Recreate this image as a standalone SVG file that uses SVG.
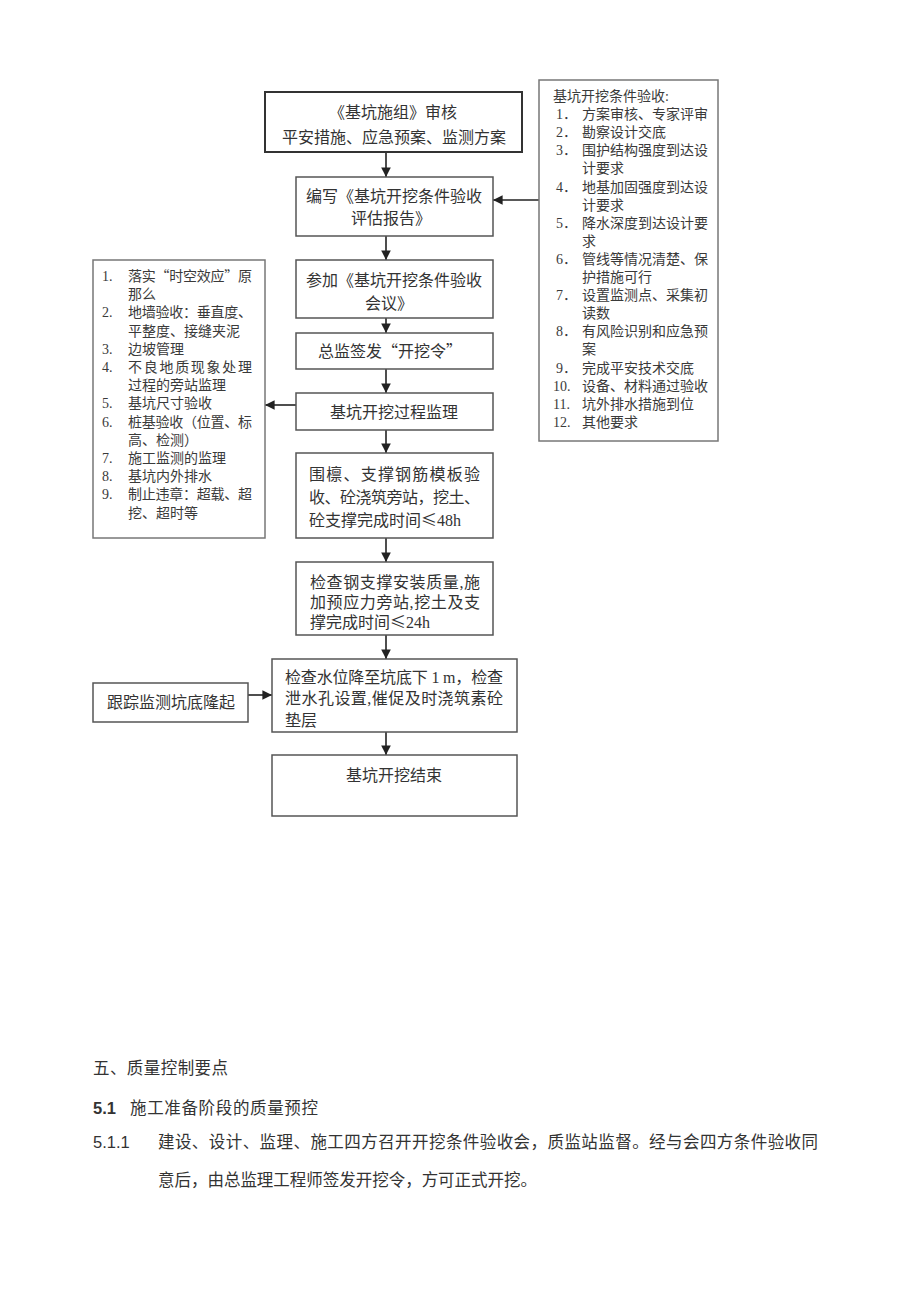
<svg xmlns="http://www.w3.org/2000/svg" width="920" height="1301" viewBox="0 0 920 1301">
<style>
.bx{fill:#fff;stroke:#555;stroke-width:1.5}
.bx1{fill:#fff;stroke:#333;stroke-width:2}
.lst{fill:#fff;stroke:#777;stroke-width:1.5}
.t{font-family:"Liberation Serif","Noto Sans CJK SC",serif;font-size:16px;fill:#333}
.m{text-anchor:middle}
.s{font-family:"Liberation Serif","Noto Sans CJK SC",serif;font-size:14px;fill:#3a3a3a}
.b{font-family:"Liberation Serif","Noto Sans CJK SC",serif;font-size:16.5px;fill:#333}
.n{font-family:"Liberation Sans","Noto Sans CJK SC",sans-serif;font-size:16.5px;fill:#333}
.cj{font-family:"Noto Sans CJK SC",sans-serif}
.c{stroke:#222;stroke-width:1.6;fill:none;marker-end:url(#ah)}
</style>
<defs>
<marker id="ah" viewBox="0 0 10 10" refX="10" refY="5" markerWidth="6" markerHeight="6" orient="auto" markerUnits="strokeWidth">
<path d="M0,0 L10,5 L0,10 z" fill="#222"/>
</marker>
</defs>
<rect width="920" height="1301" fill="#fff"/>

<g id="connectors">
<line class="c" x1="386" y1="152" x2="386" y2="177"/>
<line class="c" x1="386" y1="236" x2="386" y2="260"/>
<line class="c" x1="386" y1="318" x2="386" y2="333"/>
<line class="c" x1="386" y1="369" x2="386" y2="393"/>
<line class="c" x1="386" y1="430" x2="386" y2="453"/>
<line class="c" x1="386" y1="538" x2="386" y2="562"/>
<line class="c" x1="386" y1="635" x2="386" y2="659"/>
<line class="c" x1="386" y1="732" x2="386" y2="755"/>
<line class="c" x1="539" y1="200" x2="493" y2="200"/>
<line class="c" x1="296" y1="405" x2="265" y2="405"/>
<line class="c" x1="248" y1="695" x2="272" y2="695"/>
</g>

<g id="n1">
<rect class="bx1" x="265" y="92" width="257" height="60"/>
<text class="t m" x="393" y="118">《基坑施组》审核</text>
<text class="t m" x="394" y="143">平安措施、应急预案、监测方案</text>
</g>

<g id="n2">
<rect class="bx" x="296" y="177" width="197" height="59"/>
<text class="t m" x="394" y="202">编写《基坑开挖条件验收</text>
<text class="t m" x="391" y="224">评估报告》</text>
</g>

<g id="n3">
<rect class="bx" x="296" y="260" width="197" height="58"/>
<text class="t m" x="394" y="286">参加《基坑开挖条件验收</text>
<text class="t m" x="389" y="309">会议》</text>
</g>

<g id="n4">
<rect class="bx" x="296" y="333" width="197" height="36"/>
<text class="t m" x="390" y="357">总监签发<tspan class="cj">“</tspan>开挖令<tspan class="cj">”</tspan></text>
</g>

<g id="n5">
<rect class="bx" x="296" y="393" width="197" height="37"/>
<text class="t m" x="394" y="418">基坑开挖过程监理</text>
</g>

<g id="n6">
<rect class="bx" x="296" y="453" width="197" height="85"/>
<text class="t" x="309" y="480" textLength="171">围檩、支撑钢筋模板验</text>
<text class="t" x="309" y="503" textLength="171">收、砼浇筑旁站，挖土、</text>
<text class="t" x="309" y="526">砼支撑完成时间<tspan class="cj">≤</tspan>48h</text>
</g>

<g id="n7">
<rect class="bx" x="296" y="562" width="197" height="73"/>
<text class="t" x="310" y="588" textLength="170">检查钢支撑安装质量,施</text>
<text class="t" x="310" y="608" textLength="170">加预应力旁站,挖土及支</text>
<text class="t" x="310" y="628">撑完成时间<tspan class="cj">≤</tspan>24h</text>
</g>

<g id="n8">
<rect class="bx" x="272" y="659" width="245" height="73"/>
<text class="t" x="285" y="683" textLength="218">检查水位降至坑底下 1 m，检查</text>
<text class="t" x="285" y="704" textLength="218">泄水孔设置,催促及时浇筑素砼</text>
<text class="t" x="285" y="726">垫层</text>
</g>

<g id="n9">
<rect class="bx" x="272" y="755" width="245" height="61"/>
<text class="t m" x="394" y="781">基坑开挖结束</text>
</g>

<g id="n10">
<rect class="bx" x="93" y="683" width="155" height="39"/>
<text class="t m" x="171" y="708">跟踪监测坑底隆起</text>
</g>

<g id="n11">
<rect class="lst" x="539" y="80" width="179" height="361"/>
<text class="s" x="553" y="101">基坑开挖条件验收:</text>
<g class="s">
<text x="556" y="119.1">1．</text><text x="582" y="119.1">方案审核、专家评审</text>
<text x="556" y="137.2">2．</text><text x="582" y="137.2">勘察设计交底</text>
<text x="556" y="155.3">3．</text><text x="582" y="155.3">围护结构强度到达设</text>
<text x="582" y="173.4">计要求</text>
<text x="556" y="191.5">4．</text><text x="582" y="191.5">地基加固强度到达设</text>
<text x="582" y="209.6">计要求</text>
<text x="556" y="227.7">5．</text><text x="582" y="227.7">降水深度到达设计要</text>
<text x="582" y="245.8">求</text>
<text x="556" y="263.9">6．</text><text x="582" y="263.9">管线等情况清楚、保</text>
<text x="582" y="282">护措施可行</text>
<text x="556" y="300.1">7．</text><text x="582" y="300.1">设置监测点、采集初</text>
<text x="582" y="318.2">读数</text>
<text x="556" y="336.3">8．</text><text x="582" y="336.3">有风险识别和应急预</text>
<text x="582" y="354.4">案</text>
<text x="556" y="372.5">9．</text><text x="582" y="372.5">完成平安技术交底</text>
<text x="553" y="390.6">10.</text><text x="582" y="390.6">设备、材料通过验收</text>
<text x="553" y="408.7">11.</text><text x="582" y="408.7">坑外排水措施到位</text>
<text x="553" y="426.8">12.</text><text x="582" y="426.8">其他要求</text>
</g>
</g>

<g id="n12">
<rect class="lst" x="93" y="260" width="172" height="278"/>
<g class="s">
<text x="102" y="281">1.</text><text x="128" y="281" textLength="124">落实<tspan class="cj">“</tspan>时空效应<tspan class="cj">”</tspan>原</text>
<text x="128" y="299.2">那么</text>
<text x="102" y="317.4">2.</text><text x="128" y="317.4" textLength="124">地墙验收：垂直度、</text>
<text x="128" y="335.6">平整度、接缝夹泥</text>
<text x="102" y="353.8">3.</text><text x="128" y="353.8">边坡管理</text>
<text x="102" y="372">4.</text><text x="128" y="372" textLength="124">不良地质现象处理</text>
<text x="128" y="390.2">过程的旁站监理</text>
<text x="102" y="408.4">5.</text><text x="128" y="408.4">基坑尺寸验收</text>
<text x="102" y="426.6">6.</text><text x="128" y="426.6" textLength="124">桩基验收（位置、标</text>
<text x="128" y="444.8">高、检测）</text>
<text x="102" y="463">7.</text><text x="128" y="463">施工监测的监理</text>
<text x="102" y="481.2">8.</text><text x="128" y="481.2">基坑内外排水</text>
<text x="102" y="499.4">9.</text><text x="128" y="499.4" textLength="124">制止违章：超载、超</text>
<text x="128" y="517.6">挖、超时等</text>
</g>
</g>

<g id="body-text">
<text class="b" x="93" y="1074" textLength="135">五、质量控制要点</text>
<text class="n" x="93" y="1114" font-weight="bold">5.1</text>
<text class="b" x="130" y="1114" textLength="188">施工准备阶段的质量预控</text>
<text class="n" x="93" y="1148">5.1.1</text>
<text class="b" x="158" y="1148" textLength="660">建设、设计、监理、施工四方召开开挖条件验收会，质监站监督。经与会四方条件验收同</text>
<text class="b" x="158" y="1186" textLength="379">意后，由总监理工程师签发开挖令，方可正式开挖。</text>
</g>
</svg>
